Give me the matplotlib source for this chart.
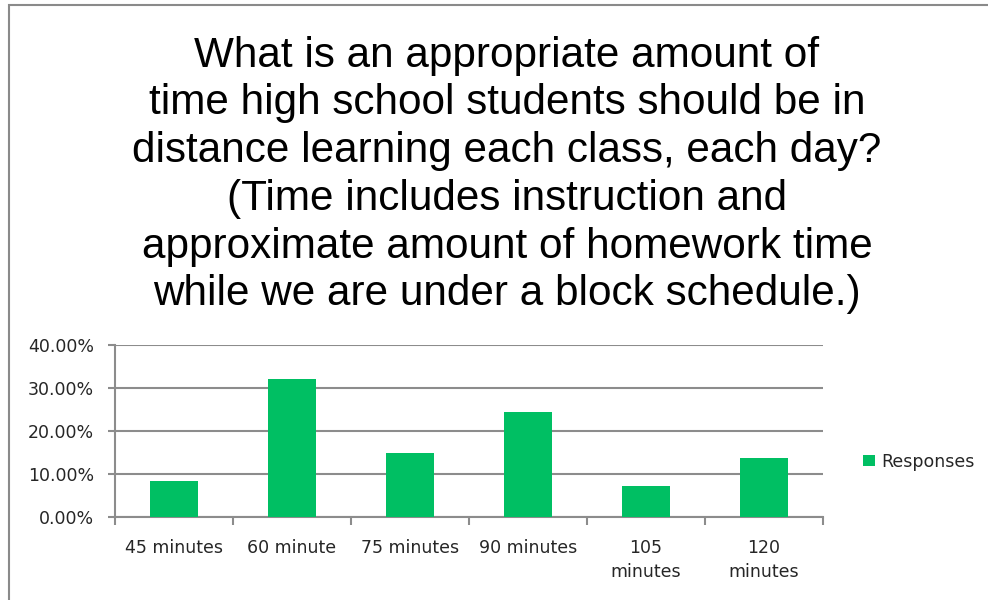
import matplotlib.pyplot as plt
from matplotlib.patches import Rectangle
from matplotlib.ticker import FuncFormatter

categories = ["45 minutes", "60 minute", "75 minutes", "90 minutes", "105\nminutes", "120\nminutes"]
responses = [8.3, 32.0, 14.9, 24.3, 7.1, 13.6]
y_ticks = [0, 10, 20, 30, 40]
title = ("What is an appropriate amount of\n"
         "time high school students should be in\n"
         "distance learning each class, each day?\n"
         "(Time includes instruction and\n"
         "approximate amount of homework time\n"
         "while we are under a block schedule.)")

green = "#00BF63"
grid_gray = "#8C8C8C"
label_font = ["DejaVu Sans"]

fig = plt.figure(figsize=(9.88, 6), dpi=100)

# bord du graphique (haut et gauche visibles seulement)
fig.patches.append(Rectangle((9 / 988, -0.1), 1.2, (600 - 5) / 600 + 0.1,
                             transform=fig.transFigure, fill=False,
                             edgecolor="#8A8A8A", linewidth=1.5))

fig.text(507 / 988, (600 - 175) / 600, title, ha="center", va="center",
         fontsize=30.4, family="Liberation Sans", linespacing=1.25, color="black")

ax = fig.add_axes([115 / 988, (600 - 516.7) / 600, (823 - 115) / 988, (516.7 - 344.7) / 600])
x = range(len(categories))
ax.bar(x, responses, width=0.4, color=green, label="Responses", zorder=3)

ax.set_xlim(-0.5, len(categories) - 0.5)
ax.set_ylim(0, 40)
ax.set_yticks(y_ticks)
ax.yaxis.set_major_formatter(FuncFormatter(lambda v, p: f"{v:.2f}%"))
ax.grid(axis="y", color=grid_gray, linewidth=1.5, zorder=0)

ax.set_xticks(list(x))
ax.set_xticklabels(categories, family=label_font, fontsize=12.5, linespacing=1.4, va="top")
ax.set_xticks([i - 0.5 for i in range(len(categories) + 1)], minor=True)
ax.tick_params(axis="x", which="major", length=0, pad=16)
ax.tick_params(axis="x", which="minor", length=6, width=1.5, color=grid_gray, direction="out")
ax.tick_params(axis="y", length=5, width=1.5, color=grid_gray, pad=10)
for lab in ax.get_yticklabels():
    lab.set_family(label_font)
    lab.set_fontsize(12.5)
    lab.set_color("#262626")
for lab in ax.get_xticklabels():
    lab.set_color("#262626")

for side in ["top", "right"]:
    ax.spines[side].set_visible(False)
for side in ["left", "bottom"]:
    ax.spines[side].set_color(grid_gray)
    ax.spines[side].set_linewidth(1.5)

leg = ax.legend(loc="center left", bbox_to_anchor=(1.035, 0.32), frameon=False,
                handlelength=0.65, handleheight=0.65, handletextpad=0.35,
                prop={"family": label_font, "size": 12.5})
for t in leg.get_texts():
    t.set_color("#262626")

fig.savefig("out.png", dpi=100, facecolor="white")
